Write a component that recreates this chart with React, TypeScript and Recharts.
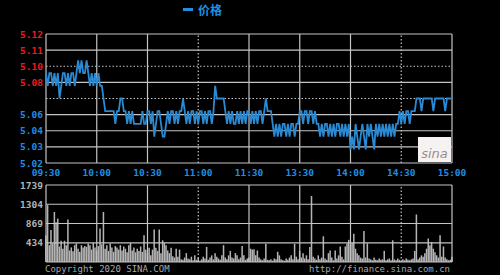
import { Bar, BarChart, Legend, Line, LineChart, ReferenceLine, XAxis, YAxis } from "recharts";

const PRE_CLOSE = 5.07;

const timeTicks = [0, 30, 60, 90, 120, 150, 180, 210, 240];
const timeLabels = ["09:30", "10:00", "10:30", "11:00", "11:30", "13:30", "14:00", "14:30", "15:00"];
const dottedTimes = [90, 210];

const pctSteps = [4, 3, 2, 1, 0, -1, -2, -3, -4];
const priceLabels = ["5.12", "5.11", "5.10", "5.08", "", "5.06", "5.04", "5.03", "5.02"];
const pctLabels = ["+1.00%", "+0.75%", "+0.50%", "+0.25%", "", "-0.25%", "-0.50%", "-0.75%", "-1.00%"];
const dottedSteps = [2, 0];

const volTicks = [0, 434, 869, 1304, 1739];
const volLabels = ["", "434", "869", "1304", "1739"];

const morningPrice = [
  5.09, 5.08, 5.09, 5.09, 5.08, 5.09, 5.08, 5.09, 5.07, 5.08, 5.09, 5.09, 5.08, 5.09, 5.08, 5.09, 5.09, 5.08,
  5.09, 5.10, 5.09, 5.10, 5.09, 5.09, 5.10, 5.09,
  5.08, 5.09, 5.08, 5.09, 5.08,
  5.09, 5.08, 5.08, 5.07, 5.06,
  5.06, 5.06, 5.06, 5.06, 5.06, 5.05, 5.06, 5.06,
  5.07, 5.07, 5.06, 5.06,
  5.05, 5.06, 5.05, 5.06,
  5.05, 5.05, 5.05, 5.05, 5.05, 5.06, 5.05, 5.05,
  5.06, 5.06, 5.05, 5.06,
  5.04, 5.05, 5.06,
  5.06, 5.05, 5.04, 5.04, 5.05,
  5.06, 5.05, 5.06, 5.06, 5.05, 5.06, 5.05, 5.06, 5.06,
  5.07,
  5.06, 5.05, 5.06, 5.05, 5.06, 5.06, 5.05, 5.06, 5.05, 5.06, 5.06, 5.05, 5.06, 5.05, 5.06, 5.06, 5.05, 5.06,
  5.08, 5.07, 5.07, 5.07, 5.07, 5.07,
  5.06, 5.05, 5.06, 5.05, 5.06, 5.05, 5.05, 5.06, 5.05, 5.06, 5.05, 5.06, 5.05, 5.06, 5.06,
];

const afternoonPrice = [
  5.05, 5.06, 5.05, 5.06, 5.05, 5.06, 5.06, 5.05, 5.06,
  5.07,
  5.06, 5.06, 5.06, 5.05,
  5.04, 5.05, 5.04, 5.05, 5.04, 5.05, 5.05, 5.04, 5.05, 5.04, 5.05, 5.05, 5.04, 5.05, 5.05,
  5.06, 5.06, 5.05, 5.06, 5.06, 5.05, 5.06, 5.06, 5.05, 5.06, 5.05,
  5.05, 5.04, 5.05, 5.04, 5.05, 5.05, 5.04, 5.05, 5.04, 5.05, 5.04, 5.05, 5.05, 5.04, 5.05, 5.04, 5.05, 5.04, 5.05,
  5.03, 5.04, 5.03,
  5.05, 5.04, 5.03, 5.04, 5.05, 5.04, 5.03, 5.05, 5.04, 5.05, 5.04, 5.03, 5.05, 5.04, 5.05, 5.04, 5.05, 5.04, 5.05, 5.04,
  5.05, 5.04, 5.05, 5.04, 5.05, 5.05,
  5.06, 5.05, 5.06, 5.05, 5.06, 5.06, 5.05, 5.06, 5.06, 5.06,
  5.07, 5.07, 5.07, 5.06, 5.07, 5.07, 5.07, 5.07, 5.07, 5.07, 5.06, 5.07, 5.07, 5.07, 5.07, 5.07, 5.07, 5.06,
  5.07, 5.07, 5.07, 5.07,
];

const morningVolume = [
  600, 1285, 380, 720, 420, 1130, 900, 980, 350, 480,
  300, 480, 380, 960, 260, 330, 240, 380, 420, 300,
  230, 380, 330, 360, 340, 420, 380, 280, 430, 330,
  260, 360, 756, 400, 1130, 300, 380, 250, 420, 330,
  230, 360, 330, 280, 380, 260, 350, 300, 220, 380,
  430, 260, 330, 220, 300, 250, 350, 230, 605, 280,
  200, 320, 150, 280, 733, 320, 250, 733, 200, 490,
  430, 380, 260, 200, 320, 130, 100, 300, 120, 280,
  60, 50, 100, 200, 80, 60, 120, 40, 150, 50,
  100, 30, 60, 120, 80, 340, 50, 100, 150, 60,
  200, 120, 80, 50, 150, 380, 100, 60, 150, 250,
  100, 80, 200, 150, 60, 100, 360, 150, 50, 80,
  100,
];

const afternoonVolume = [
  300, 280, 290, 150, 260, 100, 60, 40, 80, 410,
  50, 40, 60, 30, 80, 60, 230, 150, 60, 40,
  30, 80, 50, 100, 150, 60, 410, 120, 60, 250,
  100, 200, 80, 150, 60, 340, 1490, 120, 80, 50,
  150, 60, 100, 580, 80, 50, 200, 260, 100, 40,
  260, 80, 150, 350, 120, 60, 350, 420, 500, 380,
  430, 640, 300, 200, 150, 100, 80, 700, 100, 420,
  80, 60, 40, 100, 50, 40, 80, 50, 60, 250,
  40, 60, 80, 40, 490, 60, 40, 80, 50, 30,
  60, 40, 80, 50, 40, 60, 80, 250, 1073, 60,
  100, 150, 120, 200, 300, 530, 380, 450, 300, 220,
  150, 100, 605, 120, 350, 100, 60, 40, 50, 120,
];

const prices = [...morningPrice, ...afternoonPrice];
const volumes = [...morningVolume, ...afternoonVolume];
const priceData = prices.map((p, i) => ({ t: i, price: p }));
const volData = volumes.map((v, i) => ({ t: i, vol: v }));

const levels = pctSteps.map((k) => PRE_CLOSE * (1 + k * 0.0025));

const GRID = "#c4c4c4";
const RED = "#f01a1a";
const BLUE = "#1f8fe0";
const LINE = "#2a8ad4";
const GRAY = "#b4b4b4";
const FONT = "'DejaVu Sans Mono', monospace";

const stepOf = (v: number) => Math.round((v / PRE_CLOSE - 1) / 0.0025);

const LeftPriceTick = (props: any) => {
  const k = stepOf(props.payload.value);
  const idx = pctSteps.indexOf(k);
  return (
    <text x={43} y={props.y} dy={3.5} textAnchor="end" fill={k > 0 ? RED : BLUE} fontFamily={FONT} fontSize={9.5} fontWeight="bold">
      {priceLabels[idx]}
    </text>
  );
};

const RightPctTick = (props: any) => {
  const k = stepOf(props.payload.value);
  const idx = pctSteps.indexOf(k);
  return (
    <text x={453} y={props.y} dy={3.5} textAnchor="start" fill={k > 0 ? RED : BLUE} fontFamily={FONT} fontSize={9.5} fontWeight="bold">
      {pctLabels[idx]}
    </text>
  );
};

const TimeTick = (props: any) => {
  const idx = timeTicks.indexOf(props.payload.value);
  return (
    <text x={props.x} y={176} textAnchor="middle" fill={BLUE} fontFamily={FONT} fontSize={9.5} fontWeight="bold">
      {timeLabels[idx]}
    </text>
  );
};

const VolTick = (props: any) => {
  const idx = volTicks.indexOf(props.payload.value);
  return (
    <text x={43} y={props.y} dy={3.5} textAnchor="end" fill={GRAY} fontFamily={FONT} fontSize={9.5} fontWeight="bold">
      {volLabels[idx]}
    </text>
  );
};

const LegendContent = () => (
  <div style={{ display: "flex", alignItems: "center", color: BLUE, fontFamily: "'Noto Sans CJK SC'", fontSize: 12, fontWeight: "bold" }}>
    <span style={{ display: "inline-block", width: 10, height: 3, background: BLUE, marginRight: 5 }} />
    价格
  </div>
);

export default function App() {
  return (
    <div style={{ position: "absolute", left: 0, top: 0, width: 500, height: 275, background: "#000", overflow: "hidden" }}>
      <div style={{ position: "absolute", left: 0, top: 0 }}>
        <LineChart width={500} height={180} data={priceData} margin={{ top: 17, right: 0, bottom: 0, left: 0 }}>
          <XAxis dataKey="t" type="number" domain={[0, 240]} ticks={timeTicks} interval={0} height={17} axisLine={false} tickLine={false} tick={<TimeTick />} />
          <YAxis yAxisId="l" orientation="left" width={46} domain={[levels[8], levels[0]]} ticks={levels} interval={0} axisLine={false} tickLine={false} tick={<LeftPriceTick />} />
          <YAxis yAxisId="r" orientation="right" width={48} domain={[levels[8], levels[0]]} ticks={levels} interval={0} axisLine={false} tickLine={false} tick={<RightPctTick />} />
          {levels.map((lv, i) => (
            <ReferenceLine key={"h" + i} yAxisId="l" y={lv} stroke={GRID} strokeWidth={1.2} strokeDasharray={dottedSteps.includes(pctSteps[i]) ? "1.5 2" : undefined} />
          ))}
          {timeTicks.map((t) => (
            <ReferenceLine key={"v" + t} yAxisId="l" x={t} stroke={GRID} strokeWidth={1.2} strokeDasharray={dottedTimes.includes(t) ? "1.5 2" : undefined} />
          ))}
          <Legend verticalAlign="top" content={<LegendContent />} wrapperStyle={{ position: "absolute", left: 183, top: 1, width: 60 }} />
          <Line yAxisId="l" dataKey="price" type="linear" stroke={LINE} strokeWidth={1.8} dot={false} isAnimationActive={false} />
        </LineChart>
      </div>
      <div style={{ position: "absolute", left: 418, top: 137, width: 33, height: 25, background: "#f6f2f2", display: "flex", alignItems: "flex-end", justifyContent: "center" }}>
        <span style={{ fontFamily: "'DejaVu Sans'", fontStyle: "italic", fontSize: 13, color: "#9a8c8c", lineHeight: "16px" }}>sina</span>
      </div>
      <div style={{ position: "absolute", left: 0, top: 180 }}>
        <BarChart width={500} height={95} data={volData} margin={{ top: 5, right: 48, bottom: 13, left: 0 }} barCategoryGap={0}>
          <XAxis dataKey="t" type="number" domain={[0, 240]} hide />
          <YAxis width={46} domain={[0, 1739]} ticks={volTicks} interval={0} axisLine={false} tickLine={false} tick={<VolTick />} />
          {volTicks.map((v) => (
            <ReferenceLine key={"vh" + v} y={v} stroke={GRID} strokeWidth={1.2} />
          ))}
          {timeTicks.map((t) => (
            <ReferenceLine key={"vv" + t} x={t} stroke={GRID} strokeWidth={1.2} strokeDasharray={dottedTimes.includes(t) ? "1.5 2" : undefined} />
          ))}
          <Bar dataKey="vol" fill={GRAY} barSize={2} isAnimationActive={false} />
        </BarChart>
      </div>
      <div style={{ position: "absolute", left: 45, top: 263, color: "#a8a8a8", fontFamily: FONT, fontSize: 9, lineHeight: "12px" }}>
        Copyright 2020 SINA.COM
      </div>
      <div style={{ position: "absolute", right: 50, top: 263, color: "#a8a8a8", fontFamily: FONT, fontSize: 9, lineHeight: "12px" }}>
        http://finance.sina.com.cn
      </div>
    </div>
  );
}
